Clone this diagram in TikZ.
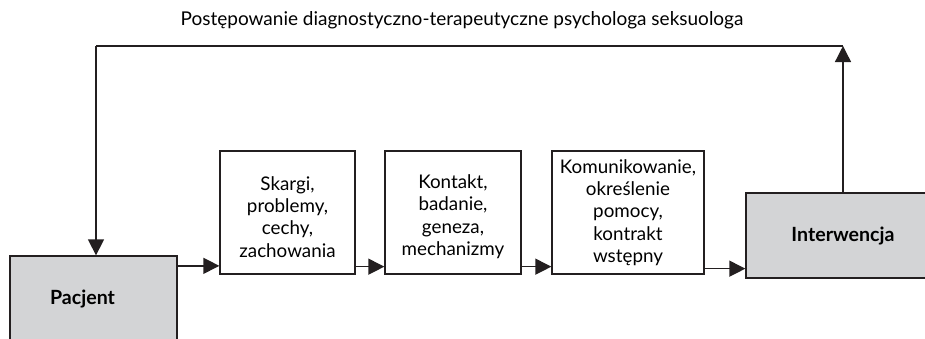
\documentclass[tikz,border=0pt]{standalone}
\usepackage{fontspec}
\setmainfont{Lato}
\usetikzlibrary{arrows.meta}
\definecolor{ln}{HTML}{231F20}
\definecolor{gfill}{HTML}{D3D4D6}
\tikzset{
  box/.style={draw=ln, line width=1.3pt, fill=white, inner sep=0pt, align=center,
    font=\fontsize{18.8}{22.3}\selectfont},
  greybox/.style={draw=ln, line width=1.3pt, fill=gfill, inner sep=0pt,
    font=\fontsize{19.6}{22}\selectfont\bfseries},
  arr/.style={draw=ln, line width=1.3pt, -{Triangle[length=16pt,width=16pt]}},
  ln/.style={draw=ln, line width=1.3pt},
}
\begin{document}
\begin{tikzpicture}[x=1pt,y=-1pt]
\useasboundingbox (0,0) rectangle (925,338);
\clip (0,0) rectangle (925,338);
\node[font=\fontsize{19}{22}\selectfont, anchor=base] (title) at (462,25) {Postępowanie diagnostyczno-terapeutyczne psychologa seksuologa};
\node[greybox, minimum width=167pt, minimum height=85pt,
  label={[xshift=-11pt,font=\fontsize{19.6}{22}\selectfont\bfseries]center:Pacjent}] (pac) at (93.5,298.5) {};
\node[box, minimum width=135pt, minimum height=123pt] (b1) at (287.5,212.5) {\mbox{}\\Skargi,\\problemy,\\cechy,\\zachowania};
\node[box, minimum width=136pt, minimum height=123pt] (b2) at (453,212.5) {\mbox{}\\Kontakt,\\badanie,\\geneza,\\mechanizmy};
\node[box, minimum width=152pt, minimum height=123pt] (b3) at (628,212.5) {Komunikowanie,\\określenie\\pomocy,\\kontrakt\\wstępny};
\node[greybox, minimum width=194pt, minimum height=85pt] (iw) at (843,235.5) {Interwencja};
\coordinate (tl) at (96,46);
\coordinate (tr) at (843,46);
\draw[arr] (iw.north) -- (tr);
\draw[ln] (tr) -- (tl);
\draw[arr] (tl) -- (pac.north -| tl);
\draw[arr] ([yshift=-10.5pt]pac.north east) -- ([yshift=-10.5pt]pac.north east -| b1.west);
\draw[arr] ([yshift=8pt]b1.south east) -- ([yshift=8pt]b1.south east -| b2.west);
\draw[arr] ([yshift=8pt]b2.south east) -- ([yshift=8pt]b2.south east -| b3.west);
\draw[arr] ([yshift=6pt]b3.south east) -- ([yshift=6pt]b3.south east -| iw.west);
\end{tikzpicture}
\end{document}
